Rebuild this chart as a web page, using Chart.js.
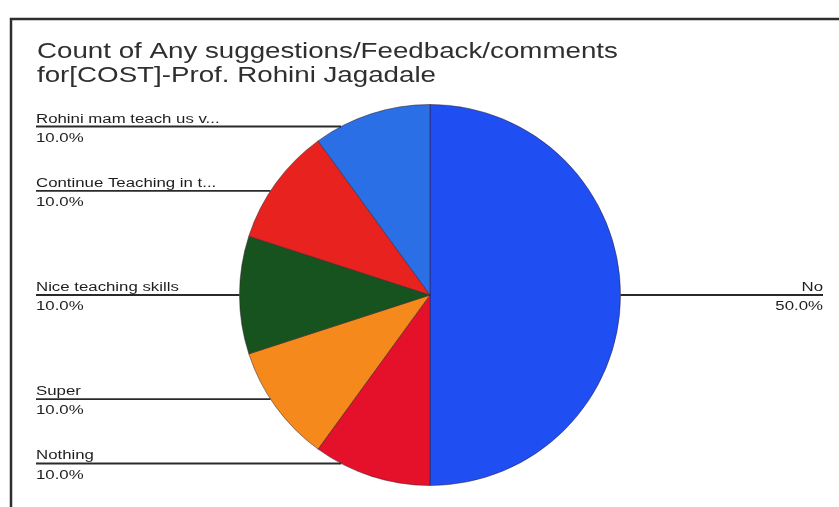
<!DOCTYPE html>
<html>
<head>
<meta charset="utf-8">
<script src="https://cdn.jsdelivr.net/npm/chart.js@4"></script>
<style>
  body { margin: 0; background: #fff; }
  #chart { display: block; }
</style>
</head>
<body>
<canvas id="chart" width="839" height="507"></canvas>
<script>
const titleLines = ["Count of Any suggestions/Feedback/comments", "for[COST]-Prof. Rohini Jagadale"];
const answers = ["No", "Nothing", "Super", "Nice teaching skills", "Continue Teaching in t...", "Rohini mam teach us v..."];
const counts = [5, 1, 1, 1, 1, 1];
const sliceColors = ["#1f4ff2", "#e5112b", "#f5891c", "#17531f", "#e8231f", "#2a6fe6"];

const canv = document.getElementById("chart");
const ctx = canv.getContext("2d");

// the scanned sheet stretches the text sideways, so draw it a bit wider
function wideText(c, text, x, y, sx, align)
{
    c.save();
    c.translate(x, y);
    c.scale(sx, 1);
    c.textAlign = align;
    c.fillText(text, 0, 0);
    c.restore();
}

// frame, title and the leader-line labels of the sheet chart
const sheetLook =
{
    id: "sheetLook",
    beforeDraw(chart)
    {
        const c = chart.ctx;
        c.save();
        c.fillStyle = "#ffffff";
        c.fillRect(0, 0, chart.width, chart.height);
        c.strokeStyle = "#2e2e2e";
        c.lineWidth = 2.5;
        c.beginPath();
        c.moveTo(11, 507);
        c.lineTo(11, 19);
        c.lineTo(839, 19);
        c.stroke();

        c.fillStyle = "#2f2f2f";
        c.font = "22px 'Liberation Sans', Arial, sans-serif";
        c.textBaseline = "alphabetic";
        wideText(c, titleLines[0], 37, 58, 1.26, "left");
        wideText(c, titleLines[1], 37, 82, 1.26, "left");
        c.restore();
    },
    afterDraw(chart)
    {
        const c = chart.ctx;
        const meta = chart.getDatasetMeta(0);
        const total = counts.reduce((a, b) => a + b, 0);
        c.save();
        c.font = "12px 'Liberation Sans', Arial, sans-serif";
        c.fillStyle = "#1e1e1e";
        c.strokeStyle = "#2a2a2a";
        c.lineWidth = 1.8;

        meta.data.forEach((arc, i) =>
        {
            const p = arc.getProps(["x", "y", "startAngle", "endAngle", "outerRadius"], true);
            const mid = (p.startAngle + p.endAngle) / 2;
            const dy = 0.93 * p.outerRadius * Math.sin(mid);
            const ly = p.y + dy;
            const dx = Math.sqrt(Math.max(0, p.outerRadius * p.outerRadius - dy * dy));
            const left = Math.cos(mid) < 0;
            const pct = (counts[i] / total * 100).toFixed(1) + "%";

            c.beginPath();
            if(left)
            {
                c.moveTo(36, ly);
                c.lineTo(p.x - dx, ly);
            }
            else
            {
                c.moveTo(p.x + dx, ly);
                c.lineTo(823, ly);
            }
            c.stroke();

            const tx = left ? 36 : 823;
            const align = left ? "left" : "right";
            c.textBaseline = "alphabetic";
            wideText(c, answers[i], tx, ly - 4, 1.4, align);
            c.textBaseline = "top";
            wideText(c, pct, tx, ly + 6, 1.4, align);
        });
        c.restore();
    }
};

const pie = new Chart(ctx,
{
    type: "pie",
    data:
    {
        labels: answers,
        datasets:
        [{
            data: counts,
            backgroundColor: sliceColors,
            borderColor: "rgba(50, 30, 40, 0.5)",
            borderWidth: 1
        }]
    },
    options:
    {
        responsive: false,
        animation: false,
        layout: { padding: { left: 239, right: 218, top: 104, bottom: 21 } },
        plugins:
        {
            legend: { display: false },
            tooltip: { enabled: false }
        }
    },
    plugins: [sheetLook]
});
</script>
</body>
</html>
